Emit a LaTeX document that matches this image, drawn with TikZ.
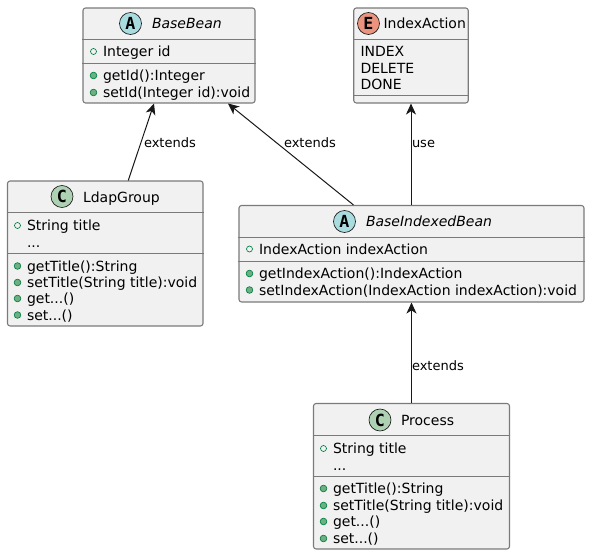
\documentclass[tikz,border=0pt]{standalone}
\usepackage{fontspec}
\setmainfont{DejaVu Sans}
\newfontfamily\iconfont{DejaVu Sans Mono}
\usetikzlibrary{arrows.meta,calc}
\definecolor{boxfill}{HTML}{F1F1F1}
\definecolor{boxline}{HTML}{7A7A7A}
\definecolor{connline}{HTML}{181818}
\definecolor{iconC}{HTML}{ADD1B2}
\definecolor{iconA}{HTML}{A9DCDF}
\definecolor{iconE}{HTML}{EB937F}
\definecolor{vis}{HTML}{038048}
\definecolor{visfill}{HTML}{6FB07F}
\tikzset{
  x=0.75pt, y=-0.75pt,
  umlbox/.style={draw=boxline, fill=boxfill, line width=0.8pt, rounded corners=1.9pt, inner sep=0pt},
  sepline/.style={draw=boxline, line width=0.7pt},
  txt/.style={anchor=base west, inner sep=0pt, outer sep=0pt, yshift=-0.5pt, font=\fontsize{10.5pt}{12pt}\selectfont, text=black},
  lbl/.style={anchor=base west, inner sep=0pt, outer sep=0pt, yshift=-0.5pt, font=\fontsize{9.75pt}{12pt}\selectfont, text=black},
  ttl/.style={txt},
  ittl/.style={txt, font=\fontsize{10.5pt}{12pt}\selectfont\itshape},
  badge/.style={circle, draw=connline, line width=0.5pt, minimum size=16.5pt, inner sep=0pt, font=\iconfont\bfseries\fontsize{12.5pt}{12pt}\selectfont, text=black},
  field/.style={circle, draw=vis, line width=0.5pt, fill=none, minimum size=4.5pt, inner sep=0pt},
  meth/.style={circle, draw=vis, line width=0.5pt, fill=visfill, minimum size=5pt, inner sep=0pt},
  conn/.style={draw=connline, line width=0.75pt, {Stealth[length=8.25pt,width=7.5pt,inset=2.4pt]}-},
}
\newcommand{\mfield}[4]{%
  \node[field] (#1i) at (#2-9.5,#3-4.5) {};
  \node[txt] (#1) at (#2,#3) {#4};}
\newcommand{\mmeth}[4]{%
  \node[meth] (#1i) at (#2-9.5,#3-4.5) {};
  \node[txt] (#1) at (#2,#3) {#4};}
\begin{document}
\begin{tikzpicture}
\useasboundingbox (0,0) rectangle (590,555);

% BaseBean
\node[umlbox, minimum width=129pt, minimum height=71.25pt] (bb) at (169,55.5) {};
\draw[sepline] (bb.west |- 0,39.5) -- (bb.east |- 0,39.5);
\draw[sepline] (bb.west |- 0,63) -- (bb.east |- 0,63);
\node[badge, fill=iconA] (bbicon) at (130.5,23.5) {A};
\node[ittl] (bbt) at (152,28) {BaseBean};
\mfield{bba}{103}{56}{Integer id}
\mmeth{bbm}{103}{80}{getId():Integer}
\mmeth{bbn}{103}{97}{setId(Integer id):void}

% IndexAction
\node[umlbox, minimum width=85.875pt, minimum height=71.25pt] (ia) at (411,55.5) {};
\draw[sepline] (ia.west |- 0,39.5) -- (ia.east |- 0,39.5);
\draw[sepline] (ia.west |- 0,95.5) -- (ia.east |- 0,95.5);
\node[badge, fill=iconE] (iaicon) at (368.5,23.5) {E};
\node[ttl] (iat) at (383.5,28) {IndexAction};
\node[txt] (iaa) at (360.5,56) {INDEX};
\node[txt] (iab) at (360.5,72.5) {DELETE};
\node[txt] (iac) at (360.5,89) {DONE};

% LdapGroup
\node[umlbox, minimum width=146.625pt, minimum height=108.75pt] (lg) at (105.25,253.5) {};
\draw[sepline] (lg.west |- 0,212.5) -- (lg.east |- 0,212.5);
\draw[sepline] (lg.west |- 0,253.5) -- (lg.east |- 0,253.5);
\node[badge, fill=iconC] (lgicon) at (62,196.5) {C};
\node[ttl] (lgt) at (83,202) {LdapGroup};
\mfield{lga}{27}{230}{String title}
\node[txt] (lgb) at (27,246.5) {...};
\mmeth{lgm}{27}{270.5}{getTitle():String}
\mmeth{lgn}{27}{287}{setTitle(String title):void}
\mmeth{lgo}{27}{303}{get...()}
\mmeth{lgp}{27}{319.5}{set...()}

% BaseIndexedBean
\node[umlbox, minimum width=258.75pt, minimum height=72.375pt] (bi) at (411.5,253.75) {};
\draw[sepline] (bi.west |- 0,237.5) -- (bi.east |- 0,237.5);
\draw[sepline] (bi.west |- 0,261) -- (bi.east |- 0,261);
\node[badge, fill=iconA] (biicon) at (344.5,221.5) {A};
\node[ittl] (bit) at (366,226) {BaseIndexedBean};
\mfield{bia}{259}{253.5}{IndexAction indexAction}
\mmeth{bim}{259}{278}{getIndexAction():IndexAction}
\mmeth{bin}{259}{294.5}{setIndexAction(IndexAction indexAction):void}

% Process
\node[umlbox, minimum width=147pt, minimum height=109.125pt] (pr) at (411.5,476.25) {};
\draw[sepline] (pr.west |- 0,435.5) -- (pr.east |- 0,435.5);
\draw[sepline] (pr.west |- 0,476.5) -- (pr.east |- 0,476.5);
\node[badge, fill=iconC] (pricon) at (380,420) {C};
\node[ttl] (prt) at (401,425) {Process};
\mfield{pra}{333}{453}{String title}
\node[txt] (prb) at (333,469.5) {...};
\mmeth{prm}{333}{493}{getTitle():String}
\mmeth{prn}{333}{510}{setTitle(String title):void}
\mmeth{pro}{333}{526}{get...()}
\mmeth{prp}{333}{543}{set...()}

% Connectors
\draw[conn] ($(bb.south)+(-15,0)$) -- ($(lg.north)+(23,0)$);
\draw[conn] ($(bb.south)+(59,0)$) -- ($(bi.north)+(-58,0)$);
\draw[conn] (ia.south) -- (ia.south |- bi.north);
\draw[conn] (bi.south) -- (pr.north);

% Connector labels
\node[lbl] (l1) at (144,147) {extends};
\node[lbl] (l2) at (284,147) {extends};
\node[lbl] (l3) at (412,147) {use};
\node[lbl] (l4) at (412,370) {extends};
\end{tikzpicture}
\end{document}
